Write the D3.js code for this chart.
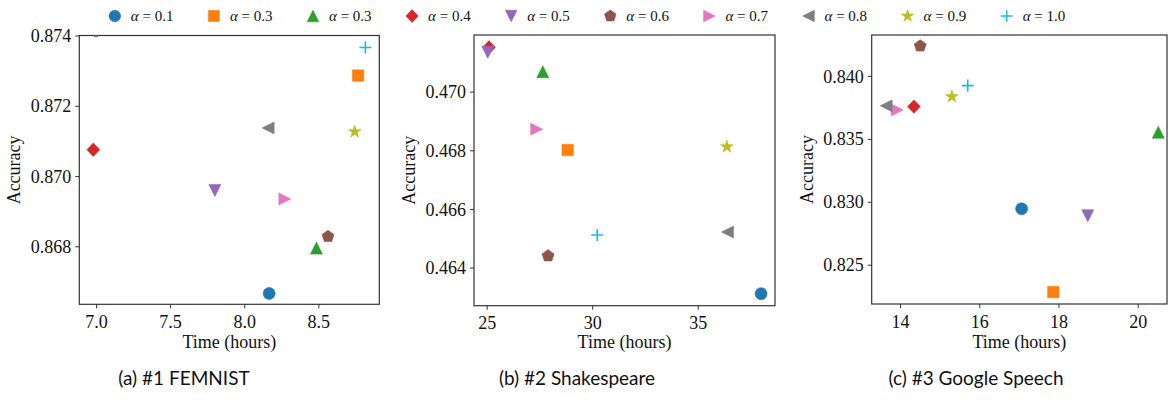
<!DOCTYPE html>
<html>
<head>
<meta charset="utf-8">
<script src="https://cdn.jsdelivr.net/npm/d3@7"></script>
<style>
  body { margin: 0; background: #fff; }
  svg { display: block; }
  .tick text { font-family: "Liberation Serif", "Times New Roman", serif; }
</style>
</head>
<body>
<svg id="chart" width="1170" height="400"></svg>
<script>

// legend labels, one per alpha setting (order = marker order)
var alphaLabels = ['0.1', '0.3', '0.3', '0.4', '0.5', '0.6', '0.7', '0.8', '0.9', '1.0'];
var markerColors = ['#1f77b4', '#ff7f0e', '#2ca02c', '#d62728', '#9467bd',
                    '#8c564b', '#e377c2', '#7f7f7f', '#bcbd22', '#17becf'];
var markerShapes = ['circle', 'square', 'up', 'diamond', 'down',
                    'pentagon', 'right', 'left', 'star', 'plus'];

// #1 FEMNIST
var femnistTime = [8.168, 8.768, 8.487, 6.982, 7.802, 8.565, 8.274, 8.161, 8.745, 8.817];
var femnistAcc  = [0.86666, 0.87286, 0.86795, 0.87075, 0.86959, 0.86828, 0.86935, 0.87137, 0.87126, 0.87366];
var femnistXTicks = [7.0, 7.5, 8.0, 8.5];
var femnistYTicks = [0.868, 0.870, 0.872, 0.874];

// #2 Shakespeare
var shakesTime = [38.00, 28.84, 27.66, 25.11, 25.05, 27.91, 27.37, 36.41, 36.38, 30.24];
var shakesAcc  = [0.46311, 0.46801, 0.47068, 0.47151, 0.47134, 0.46440, 0.46872, 0.46521, 0.46812, 0.46511];
var shakesXTicks = [25, 30, 35];
var shakesYTicks = [0.464, 0.466, 0.468, 0.470];

// #3 Google Speech
var speechTime = [17.07, 17.87, 20.52, 14.35, 18.74, 14.51, 13.93, 13.65, 15.31, 15.71];
var speechAcc  = [0.82944, 0.82283, 0.83553, 0.83756, 0.82889, 0.84238, 0.83730, 0.83762, 0.83835, 0.83923];
var speechXTicks = [14, 16, 18, 20];
var speechYTicks = [0.825, 0.830, 0.835, 0.840];

var captions = ['(a) #1 FEMNIST', '(b) #2 Shakespeare', '(c) #3 Google Speech'];

var serif = '"Liberation Serif", "Times New Roman", serif';
var svg = d3.select('#chart');

// matplotlib-like marker paths, centred on the bbox
function markerPath(shape, r) {
  var p = d3.path();
  var i, a, rr;
  if (shape === 'circle') {
    p.arc(0, 0, r, 0, 2 * Math.PI);
  } else if (shape === 'square') {
    var h = r * 0.95;
    p.rect(-h, -h, 2 * h, 2 * h);
  } else if (shape === 'diamond') {
    var d = r * 1.12;
    p.moveTo(0, -d); p.lineTo(d * 0.95, 0); p.lineTo(0, d); p.lineTo(-d * 0.95, 0); p.closePath();
  } else if (shape === 'up') {
    p.moveTo(0, -r); p.lineTo(r, r); p.lineTo(-r, r); p.closePath();
  } else if (shape === 'down') {
    p.moveTo(0, r); p.lineTo(r, -r); p.lineTo(-r, -r); p.closePath();
  } else if (shape === 'right') {
    p.moveTo(r, 0); p.lineTo(-r, r); p.lineTo(-r, -r); p.closePath();
  } else if (shape === 'left') {
    p.moveTo(-r, 0); p.lineTo(r, r); p.lineTo(r, -r); p.closePath();
  } else if (shape === 'pentagon') {
    rr = r * 1.05;
    for (i = 0; i < 5; i++) {
      a = -Math.PI / 2 + i * 2 * Math.PI / 5;
      if (i === 0) p.moveTo(rr * Math.cos(a), rr * Math.sin(a));
      else p.lineTo(rr * Math.cos(a), rr * Math.sin(a));
    }
    p.closePath();
  } else if (shape === 'star') {
    rr = r * 1.12;
    for (i = 0; i < 10; i++) {
      a = -Math.PI / 2 + i * Math.PI / 5;
      var rad = i % 2 === 0 ? rr : rr * 0.382;
      if (i === 0) p.moveTo(rad * Math.cos(a), rad * Math.sin(a));
      else p.lineTo(rad * Math.cos(a), rad * Math.sin(a));
    }
    p.closePath();
  } else if (shape === 'plus') {
    p.moveTo(-r, 0); p.lineTo(r, 0);
    p.moveTo(0, -r); p.lineTo(0, r);
  }
  return p.toString();
}

function drawMarker(g, i, x, y, r) {
  var shape = markerShapes[i];
  var m = g.append('path')
    .attr('d', markerPath(shape, r))
    .attr('transform', 'translate(' + x + ',' + y + ')');
  if (shape === 'plus') {
    m.attr('fill', 'none').attr('stroke', markerColors[i]).attr('stroke-width', 1.6);
  } else {
    m.attr('fill', markerColors[i]).attr('stroke', markerColors[i]).attr('stroke-width', 0.6);
  }
  return m;
}

function drawPanel(cfg) {
  var g = svg.append('g');

  var x = d3.scaleLinear().domain(cfg.xDomain).range([cfg.left, cfg.right]);
  var y = d3.scaleLinear().domain(cfg.yDomain).range([cfg.bottom, cfg.top]);

  // x axis
  var xAxis = g.append('g')
    .attr('transform', 'translate(0,' + cfg.bottom + ')')
    .call(d3.axisBottom(x).tickValues(cfg.xTicks).tickFormat(cfg.xFormat)
      .tickSize(4).tickPadding(7));
  // y axis
  var yAxis = g.append('g')
    .attr('transform', 'translate(' + cfg.left + ',0)')
    .call(d3.axisLeft(y).tickValues(cfg.yTicks).tickFormat(d3.format('.3f'))
      .tickSize(4).tickPadding(4));

  [xAxis, yAxis].forEach(function(ax) {
    ax.attr('font-family', serif).attr('font-size', 18);
    ax.select('.domain').remove();
    ax.selectAll('.tick line').attr('stroke', '#333').attr('stroke-width', 1);
    ax.selectAll('.tick text')
      .attr('fill', '#111')
      .attr('font-family', serif)
      .attr('font-size', 18);
  });
  yAxis.selectAll('.tick text').attr('dy', '0.34em');

  // spines, full box
  g.append('rect')
    .attr('x', cfg.left).attr('y', cfg.top)
    .attr('width', cfg.right - cfg.left)
    .attr('height', cfg.bottom - cfg.top)
    .attr('fill', 'none')
    .attr('stroke', '#333')
    .attr('stroke-width', 1.2);

  // stray dash mark
  if (cfg.dash) {
    g.append('line')
      .attr('x1', x(cfg.dash[0]) - 2).attr('x2', x(cfg.dash[0]) + 2)
      .attr('y1', y(cfg.dash[1]) + 1).attr('y2', y(cfg.dash[1]) + 1)
      .attr('stroke', '#888').attr('stroke-width', 1.3);
  }

  // points
  cfg.xs.forEach(function(d, i) {
    drawMarker(g, i, x(d), y(cfg.ys[i]), 6);
  });

  // axis labels
  g.append('text')
    .attr('x', (cfg.left + cfg.right) / 2)
    .attr('y', 348)
    .attr('text-anchor', 'middle')
    .attr('font-family', serif)
    .attr('font-size', 18)
    .attr('fill', '#111')
    .text('Time (hours)');

  g.append('text')
    .attr('transform', 'translate(' + (cfg.left - 59) + ',' + ((cfg.top + cfg.bottom) / 2) + ') rotate(-90)')
    .attr('text-anchor', 'middle')
    .attr('font-family', serif)
    .attr('font-size', 18)
    .attr('fill', '#111')
    .text('Accuracy');

  // caption
  g.append('text')
    .attr('x', cfg.capX)
    .attr('y', 385)
    .attr('text-anchor', 'middle')
    .attr('font-family', 'Lato, "Open Sans", sans-serif')
    .attr('font-size', 19)
    .attr('fill', '#111')
    .text(cfg.caption);
}

drawPanel({
  left: 79.3, right: 379.3, top: 35.5, bottom: 304.3,
  xDomain: [6.8875, 8.911], yDomain: [0.86635, 0.874],
  xTicks: femnistXTicks, yTicks: femnistYTicks, xFormat: d3.format('.1f'),
  xs: femnistTime, ys: femnistAcc,
  dash: [7.0, 0.874],
  caption: captions[0], capX: 184
});

drawPanel({
  left: 474, right: 775, top: 35, bottom: 305.7,
  xDomain: [24.4, 38.66], yDomain: [0.4627, 0.47193],
  xTicks: shakesXTicks, yTicks: shakesYTicks, xFormat: d3.format('d'),
  xs: shakesTime, ys: shakesAcc,
  caption: captions[1], capX: 577
});

drawPanel({
  left: 871.7, right: 1167, top: 35, bottom: 304,
  xDomain: [13.285, 20.74], yDomain: [0.82188, 0.84325],
  xTicks: speechXTicks, yTicks: speechYTicks, xFormat: d3.format('d'),
  xs: speechTime, ys: speechAcc,
  caption: captions[2], capX: 976
});

// legend across the top
var legend = svg.append('g').attr('class', 'legend');
alphaLabels.forEach(function(lab, i) {
  var lx = 114.8 + i * 99.1;
  drawMarker(legend, i, lx, 16, 5.8);
  var t = legend.append('text')
    .attr('x', lx + 16)
    .attr('y', 21)
    .attr('font-family', serif)
    .attr('font-size', 15)
    .attr('fill', '#111');
  t.append('tspan').attr('font-style', 'italic').text('\u03b1');
  t.append('tspan').text(' = ' + lab);
});

</script>
</body>
</html>
